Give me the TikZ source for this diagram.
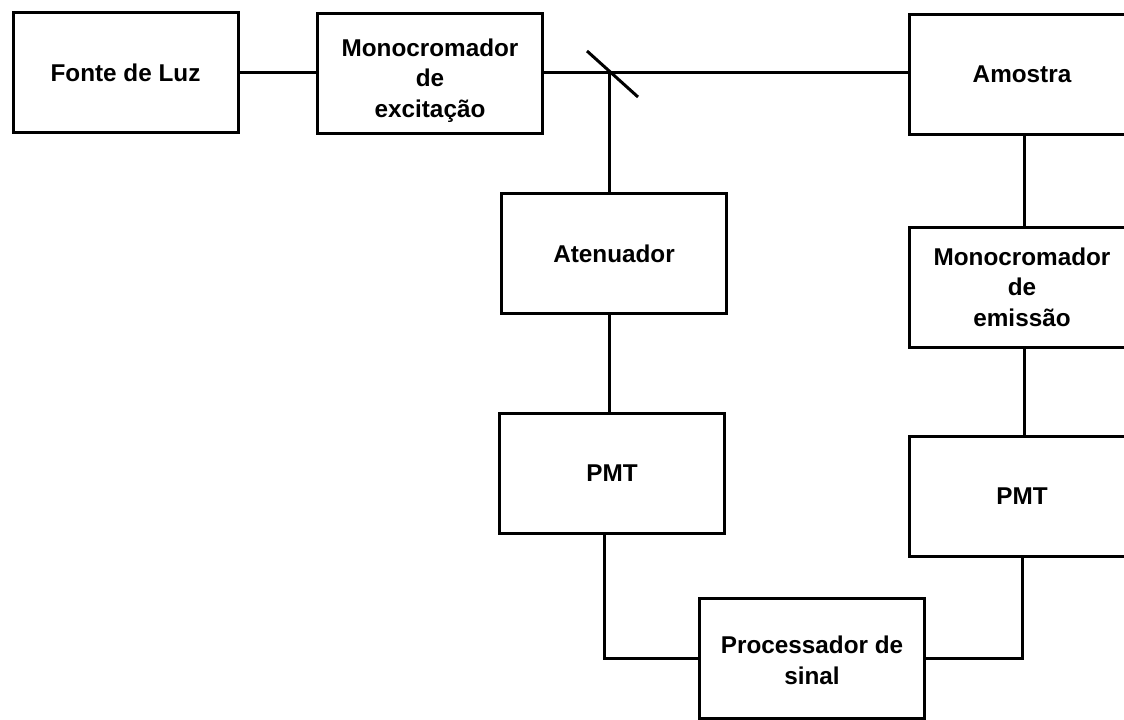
\documentclass[tikz,border=0pt]{standalone}
\usepackage{fontspec}
\setmainfont{Liberation Sans}
\tikzset{
  bloco/.style={draw, line width=1.5pt, minimum width=112.5pt, minimum height=60pt,
    align=center, inner sep=0pt, font=\fontsize{12.15}{15.25}\selectfont\bfseries},
  liga/.style={line width=1.5pt}
}
\begin{document}
\begin{tikzpicture}[x=0.5pt, y=-0.5pt]
      \useasboundingbox (0, 0) rectangle (1124, 719) ;
      \clip (0, 0) rectangle (1124, 719) ;
    %--- Linha de cima
      \node[bloco] (fonte) at (125.5, 72.5) {Fonte de Luz} ;
      \node[bloco] (monoexc) at (430, 73.5) {\rule{0pt}{16pt}Monocromador\\de\\excita\c{c}\~ao} ;
      \node[bloco] (amostra) at (1022, 74.5) {Amostra} ;
      \coordinate (espelho) at (609, 72) ;
    %--- Ramo do atenuador
      \node[bloco] (atenuador) at (614, 253.5) {Atenuador} ;
      \node[bloco] (pmta) at (612, 473.5) {PMT} ;
    %--- Ramo da emissao
      \node[bloco] (monoem) at (1022, 287) {Monocromador\\de\\emiss\~ao} ;
      \node[bloco] (pmtb) at (1022, 496) {PMT} ;
      \node[bloco] (proc) at (812, 658) {\rule{0pt}{11pt}Processador de\\sinal} ;
    %--- Ligacoes
      \draw[liga] (fonte.east |- 0, 72) -- (monoexc.west |- 0, 72) ;
      \draw[liga] (monoexc.east |- 0, 72) -- (amostra.west |- 0, 72) ;
      \draw[liga] (espelho) ++ (-22, -21) -- ++ (51, 46) ;
      \draw[liga] (espelho) -- (espelho |- atenuador.north) ;
      \draw[liga] (atenuador.south -| espelho) -- (pmta.north -| espelho) ;
      \draw[liga] (pmta.south -| 604, 0) |- (proc.west) ;
      \draw[liga] (amostra.south -| 1024, 0) -- (monoem.north -| 1024, 0) ;
      \draw[liga] (monoem.south -| 1024, 0) -- (pmtb.north -| 1024, 0) ;
      \draw[liga] (pmtb.south -| 1022, 0) |- (proc.east) ;
  \end{tikzpicture}
\end{document}
